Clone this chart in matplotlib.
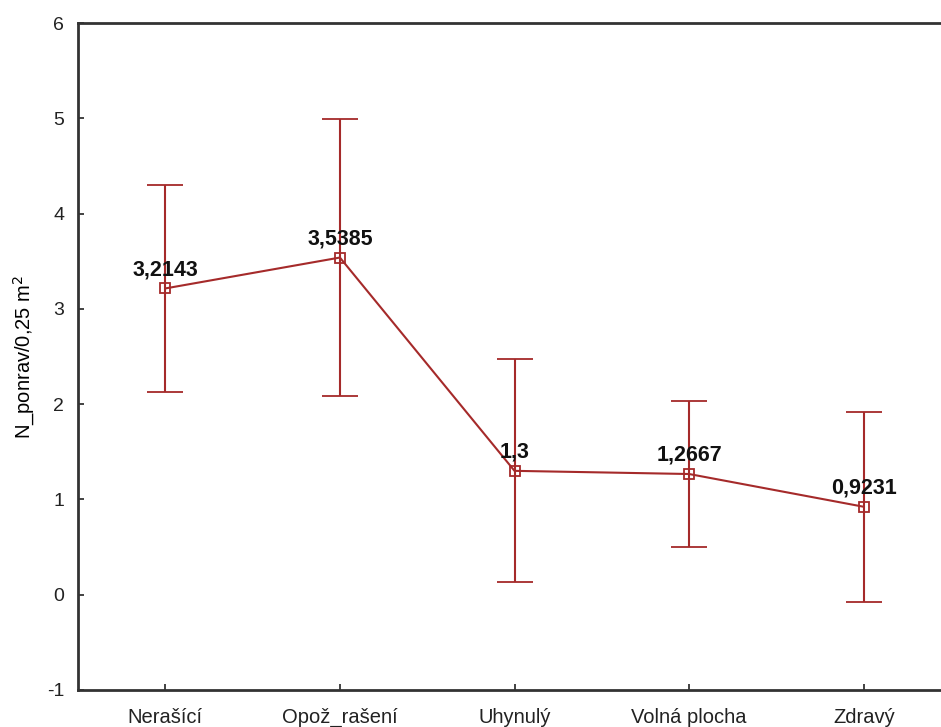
import numpy as np
import matplotlib.pyplot as plt

plt.rcParams['font.family'] = ['Liberation Sans', 'DejaVu Sans']
plt.rcParams['axes.unicode_minus'] = False

# data
categories = ["Nerašící", "Opož_rašení", "Uhynulý", "Volná plocha", "Zdravý"]
means = [3.2143, 3.5385, 1.3, 1.2667, 0.9231]
lower = [2.13, 2.09, 0.13, 0.50, -0.08]
upper = [4.30, 4.99, 2.47, 2.03, 1.92]
labels = ["3,2143", "3,5385", "1,3", "1,2667", "0,9231"]

color = "#a52a2a"

fig = plt.figure(figsize=(9.41, 7.27), dpi=100)
ax = fig.add_axes([78 / 941, 1 - 690 / 727, (951 - 78) / 941, (690 - 23) / 727])

x = np.arange(len(categories))
means = np.array(means)
yerr = [means - np.array(lower), np.array(upper) - means]

ax.errorbar(x, means, yerr=yerr, color=color, lw=1.5, capsize=13, capthick=1.5,
            marker="s", markersize=6.5, markerfacecolor="none", markeredgecolor=color,
            markeredgewidth=1.3)

for xi, m, lab in zip(x, means, labels):
    ax.annotate(lab, (xi, m), xytext=(0, 6), textcoords="offset points",
                ha="center", va="bottom", fontsize=15.5, fontweight="bold", color="#111111")

ax.set_xlim(-0.5, 4.5)
ax.set_ylim(-1, 6)
ax.set_xticks(x)
ax.set_xticklabels(categories, fontsize=14.5)
ax.set_yticks(range(-1, 7))
ax.tick_params(axis="both", direction="in", length=4, width=1.2, colors="#222222", labelsize=14)
ax.tick_params(axis="x", labelsize=14.5, pad=13)
ax.tick_params(axis="y", pad=10)
ax.set_ylabel("N_ponrav/0,25 m$^{2}$", fontsize=14.5, labelpad=7)

for s in ax.spines.values():
    s.set_linewidth(2)
    s.set_color("#333333")

fig.savefig("out.png", dpi=100)
